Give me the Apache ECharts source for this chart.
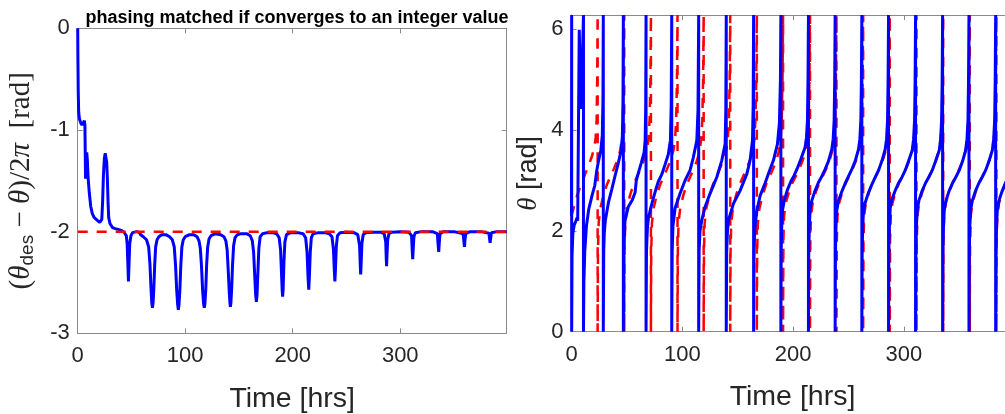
<!DOCTYPE html>
<html><head><meta charset="utf-8">
<script src="https://cdn.jsdelivr.net/npm/echarts@6/dist/echarts.min.js"></script>
<style>html,body{margin:0;padding:0;background:#fff}#c{width:1005px;height:414px}</style>
</head><body><div id="c"></div>
<script>
// ---------- data ----------
const TWO_PI = 6.283;
const xTicks = [0, 100, 200, 300];
const yTicksLeft = [-3, -2, -1, 0];
const yTicksRight = [0, 2, 4, 6];
const targetLevel = -2;

// (theta_des - theta)/2pi  [time (hrs), value]
const phaseDiff = [
[0,0],[0.2,-0.3],[0.5,-0.62],[0.9,-0.82],[1.6,-0.89],[2.8,-0.93],[4.0,-0.95],[5.2,-0.94],[6.2,-0.91],[6.7,-0.95],[7.3,-1.48],[7.6,-1.42],[8.4,-1.22],[9.0,-1.3],[9.6,-1.46],[10.8,-1.62],[12.1,-1.75],[13.5,-1.82],[15.2,-1.86],[18.3,-1.89],[20.5,-1.91],[21.6,-1.92],[22.4,-1.88],[23.2,-1.7],[23.9,-1.45],[24.8,-1.28],[25.6,-1.23],[26.3,-1.24],[27.0,-1.32],[27.6,-1.48],[28.2,-1.7],[28.8,-1.86],[30,-1.92],[32.3,-1.96],[35,-1.97],[38.5,-1.98],[41,-1.99],[43.5,-2.01],[45.2,-2.04],
[46.0,-2.12],[46.6,-2.3],[47.2,-2.49],[47.8,-2.3],[48.4,-2.12],[49.5,-2.04],[51,-2.01],[55,-2.0],[57.5,-2.01],[58.5,-2.03],[61,-2.05],[64,-2.08],[66,-2.15],[67.2,-2.32],[68.2,-2.56],[68.9,-2.7],[69.5,-2.75],[70.1,-2.7],[70.8,-2.56],[71.6,-2.33],[72.5,-2.15],[73.8,-2.08],[75.5,-2.05],[78,-2.03],[82,-2.03],[85.5,-2.05],[88,-2.08],[89.8,-2.15],[91.0,-2.33],[92.1,-2.58],[93.0,-2.72],[93.6,-2.77],[94.2,-2.72],[95.0,-2.58],[95.9,-2.33],[96.9,-2.15],[98.2,-2.08],[100,-2.05],[104,-2.03],[108,-2.03],[111,-2.05],[112.8,-2.09],[114.0,-2.16],[115.1,-2.33],[116.2,-2.58],[117.1,-2.71],[117.7,-2.75],[118.3,-2.71],[119.1,-2.57],[119.9,-2.33],[120.9,-2.15],[122.2,-2.07],[124,-2.04],[128,-2.02],[133,-2.03],[136,-2.05],[137.8,-2.09],[139.0,-2.18],[140.0,-2.38],[141.0,-2.6],[141.6,-2.7],[142.0,-2.74],[142.5,-2.7],[143.2,-2.56],[144.0,-2.33],[145.0,-2.14],[146.3,-2.06],[148.5,-2.03],[152,-2.02],[157,-2.02],[160.5,-2.04],[162.4,-2.09],[163.6,-2.2],[164.6,-2.42],[165.5,-2.62],[166.2,-2.69],[166.8,-2.62],[167.6,-2.4],[168.5,-2.16],[169.7,-2.05],[172,-2.02],[176,-2.01],[181,-2.01],[185,-2.02],[187.4,-2.06],[188.7,-2.18],[189.6,-2.42],[190.2,-2.58],[190.6,-2.64],[191.1,-2.56],[191.8,-2.3],[192.7,-2.1],[194.2,-2.03],[198,-2.01],[205,-2.01],[209.5,-2.02],[212,-2.06],[213.3,-2.2],[214.2,-2.44],[214.9,-2.57],[215.5,-2.44],[216.3,-2.2],[217.3,-2.06],[219,-2.02],[224,-2.01],[230,-2.01],[234,-2.02],[236.5,-2.05],[237.9,-2.18],[238.7,-2.39],[239.2,-2.49],[239.7,-2.38],[240.5,-2.15],[241.6,-2.04],[244,-2.01],[250,-2.005],[257,-2.01],[260.5,-2.03],[262.2,-2.14],[262.8,-2.33],[263.2,-2.42],[263.6,-2.32],[264.3,-2.12],[265.5,-2.03],[268,-2.01],[275,-2.005],[282,-2.005],[285,-2.02],[286.5,-2.1],[287.0,-2.27],[287.3,-2.34],[287.6,-2.25],[288.3,-2.08],[289.5,-2.02],[292,-2.005],[300,-2.0],[308,-2.005],[310.5,-2.04],[311.2,-2.2],[311.6,-2.27],[312.0,-2.18],[312.7,-2.05],[314,-2.01],[320,-2.0],[330,-2.0],[334.5,-2.02],[335.3,-2.14],[335.8,-2.2],[336.2,-2.12],[337,-2.02],[340,-2.0],[350,-2.0],[358.5,-2.02],[359.3,-2.11],[359.7,-2.15],[360.1,-2.09],[360.9,-2.02],[365,-2.0],[375,-2.0],[382.5,-2.015],[383.2,-2.08],[383.6,-2.11],[384.0,-2.07],[384.8,-2.01],[390,-2.0],[399,-2.0]
];

// theta (wrapped to [0, 2pi])  [time, rad]
const theta = [
[0,2.3],[0.15,6.283],[0.15,0],[0.5,1.5],[1.2,1.95],[2.5,2.12],[4.0,2.2],[5.0,2.26],[5.6,2.2],[6.4,2.18],[7.0,5.99],[8.5,4.42],[9.6,5.2],[10.8,6.283],[10.8,0],
[11.2,1.0],[12.0,1.6],[13.5,2.1],[15.5,2.42],[18.5,2.7],[21,2.9],[22.8,3.2],[24.5,3.4],[26.5,3.6],[27.8,3.9],[28.4,4.6],[28.7,6.283],[28.7,0],
[29.1,1.6],[29.6,1.96],[30.5,2.2],[33.3,2.56],[36.3,2.82],[39.3,3.09],[42.3,3.35],[44.8,3.6],[46.0,3.9],[46.5,4.6],[46.8,6.283],[46.8,0],
[47.2,1.6],[48.3,2.2],[51.3,2.48],[55,2.62],[57.4,2.76],[58.5,3.0],[60,3.12],[63,3.35],[65.5,3.55],[66.5,3.8],[67.0,4.5],[67.3,6.283],[67.3,0],
[67.7,1.6],[68.5,2.05],[69.4,2.25],[71.5,2.45],[73.9,2.65],[76.5,2.85],[78.4,2.98],[81.5,3.12],[84.5,3.32],[87.4,3.52],[89.3,3.8],[90.0,4.5],[90.5,6.283],[90.5,0],
[90.9,1.6],[91.6,2.1],[93.5,2.45],[98,2.74],[102.5,3.0],[107,3.2],[110,3.46],[113.1,3.79],[114.2,4.4],[114.8,6.283],[114.8,0],
[115.2,1.6],[116.0,2.0],[117.6,2.21],[120.6,2.48],[125.1,2.74],[131.2,3.07],[135.7,3.4],[138.7,3.73],[139.3,4.4],[139.7,6.283],[139.7,0],
[140.1,1.6],[140.8,2.0],[141.7,2.21],[146.2,2.54],[152.2,2.8],[158.3,3.13],[161.2,3.4],[163.4,3.8],[164.0,4.5],[164.4,6.283],[164.4,0],
[164.8,1.6],[165.5,2.05],[167.3,2.4],[170.3,2.7],[174.8,2.95],[178,3.15],[182.3,3.4],[185.9,3.72],[187.7,4.15],[188.6,5.0],[189.0,6.283],[189.0,0],
[189.3,1.6],[189.8,2.1],[190.5,2.41],[192,2.6],[195,2.82],[198,2.98],[201,3.1],[204,3.25],[207,3.42],[210.9,3.66],[212.1,3.85],[213.0,4.2],[213.5,5.0],[213.9,6.283],[213.9,0],
[214.2,1.6],[214.7,2.1],[215.4,2.41],[216.9,2.6],[219.9,2.8],[222.9,2.96],[225.9,3.08],[228.9,3.22],[231.9,3.38],[235,3.62],[236.2,3.82],[237.1,4.2],[237.6,5.0],[238.0,6.283],[238.0,0],
[238.3,1.6],[238.8,2.1],[239.5,2.41],[241,2.6],[244,2.78],[247,2.94],[250,3.08],[253,3.22],[256,3.38],[259.1,3.62],[260.3,3.82],[261.2,4.2],[261.7,5.0],[262.1,6.283],[262.1,0],
[262.4,1.6],[262.9,2.1],[263.6,2.38],[265.1,2.56],[268.1,2.76],[271.1,2.92],[274.1,3.06],[277.1,3.2],[280.1,3.38],[283.2,3.62],[284.4,3.82],[285.3,4.2],[285.8,5.0],[286.2,6.283],[286.2,0],
[286.5,1.6],[287.0,2.1],[287.7,2.45],[289.2,2.62],[292.2,2.8],[295.2,2.95],[298.2,3.06],[301.2,3.2],[304.2,3.38],[307.6,3.6],[308.8,3.82],[309.7,4.2],[310.2,5.0],[310.6,6.283],[310.6,0],
[310.9,1.6],[311.4,2.1],[312.1,2.41],[313.6,2.6],[316.6,2.8],[319.6,2.95],[322.6,3.07],[325.6,3.2],[328.6,3.38],[332,3.6],[333.2,3.82],[334.1,4.2],[334.6,5.0],[335.0,6.283],[335.0,0],
[335.3,1.6],[335.8,2.1],[336.5,2.41],[338,2.6],[341,2.8],[344,2.95],[347,3.07],[350,3.2],[353,3.38],[355.8,3.6],[357,3.82],[357.9,4.2],[358.4,5.0],[358.8,6.283],[358.8,0],
[359.1,1.6],[359.6,2.1],[360.3,2.41],[361.8,2.6],[364.8,2.8],[367.8,2.95],[370.8,3.07],[373.8,3.2],[376.8,3.38],[379.9,3.6],[381.1,3.82],[382,4.2],[382.5,5.0],[382.9,6.283],[382.9,0],
[383.2,1.6],[383.7,2.1],[384.4,2.41],[385.9,2.6],[388.9,2.8],[391.9,2.96],[394.9,3.08],[399,3.25]
];

// theta_des (wrapped to [0, 2pi])  [time, rad]
const thetaDes = [
[0,2.3],[1.5,2.42],[4.7,2.68],[9.2,2.95],[13.7,3.2],[18,3.45],[20.6,3.65],[21.8,3.85],[22.7,4.2],[23.2,5.0],[23.6,6.283],[23.6,0],
[23.9,1.6],[24.5,2.15],[26.0,2.45],[29.0,2.72],[32.0,2.92],[35.0,3.07],[38.0,3.22],[41.0,3.38],[44.0,3.6],[45.4,3.82],[46.4,4.2],[47.1,5.0],[47.6,6.283],[47.6,0],
[47.9,1.6],[48.5,2.15],[50.0,2.45],[53.0,2.72],[56.0,2.92],[59.0,3.07],[62.0,3.22],[65.0,3.38],[68.1,3.6],[69.5,3.82],[70.5,4.2],[71.2,5.0],[71.7,6.283],[71.7,0],
[72.0,1.6],[72.6,2.15],[74.1,2.45],[77.1,2.72],[80.1,2.92],[83.1,3.07],[86.1,3.22],[89.1,3.38],[92.1,3.6],[93.5,3.82],[94.5,4.2],[95.2,5.0],[95.7,6.283],[95.7,0],
[96.0,1.6],[96.6,2.15],[98.1,2.45],[101.1,2.72],[104.1,2.92],[107.1,3.07],[110.1,3.22],[113.1,3.38],[115.7,3.6],[117.1,3.82],[118.1,4.2],[118.8,5.0],[119.3,6.283],[119.3,0],
[119.6,1.6],[120.2,2.15],[121.7,2.45],[124.7,2.72],[127.7,2.92],[130.7,3.07],[133.7,3.22],[136.7,3.38],[139.7,3.6],[141.1,3.82],[142.1,4.2],[142.8,5.0],[143.3,6.283],[143.3,0],
[143.6,1.6],[144.2,2.15],[145.7,2.45],[148.7,2.72],[151.7,2.92],[154.7,3.07],[157.7,3.22],[160.7,3.38],[163.7,3.6],[165.1,3.82],[166.1,4.2],[166.8,5.0],[167.3,6.283],[167.3,0],
[167.6,1.6],[168.2,2.15],[169.7,2.45],[172.7,2.72],[175.7,2.92],[178.7,3.07],[181.7,3.22],[184.7,3.38],[187.4,3.6],[188.8,3.82],[189.8,4.2],[190.5,5.0],[191.0,6.283],[191.0,0],
[191.3,1.8],[191.9,2.3],[193.4,2.55],[196.4,2.78],[199.4,2.95],[202.4,3.08],[205.4,3.22],[208.4,3.38],[211.7,3.6],[213.1,3.82],[214.1,4.2],[214.8,5.0],[215.3,6.283],[215.3,0],
[215.6,1.8],[216.2,2.3],[217.7,2.55],[220.7,2.78],[223.7,2.95],[226.7,3.08],[229.7,3.22],[232.7,3.38],[235.6,3.6],[237.0,3.82],[238.0,4.2],[238.7,5.0],[239.2,6.283],[239.2,0],
[239.5,1.8],[240.1,2.3],[241.6,2.55],[244.6,2.78],[247.6,2.95],[250.6,3.08],[253.6,3.22],[256.6,3.38],[259.7,3.6],[261.1,3.82],[262.1,4.2],[262.8,5.0],[263.3,6.283],[263.3,0],
[263.6,1.8],[264.2,2.3],[265.7,2.55],[268.7,2.78],[271.7,2.95],[274.7,3.08],[277.7,3.22],[280.7,3.38],[283.7,3.6],[285.1,3.82],[286.1,4.2],[286.8,5.0],[287.3,6.283],[287.3,0],
[287.6,1.8],[288.2,2.3],[289.7,2.55],[292.7,2.78],[295.7,2.95],[298.7,3.08],[301.7,3.22],[304.7,3.38],[307.8,3.6],[309.2,3.82],[310.2,4.2],[310.9,5.0],[311.4,6.283],[311.4,0],
[311.7,1.8],[312.3,2.3],[313.8,2.55],[316.8,2.78],[319.8,2.95],[322.8,3.08],[325.8,3.22],[328.8,3.38],[331.9,3.6],[333.3,3.82],[334.3,4.2],[335.0,5.0],[335.5,6.283],[335.5,0],
[335.8,1.8],[336.4,2.3],[337.9,2.55],[340.9,2.78],[343.9,2.95],[346.9,3.08],[349.9,3.22],[352.9,3.38],[355.9,3.6],[357.3,3.82],[358.3,4.2],[359.0,5.0],[359.5,6.283],[359.5,0],
[359.8,1.8],[360.4,2.3],[361.9,2.55],[364.9,2.78],[367.9,2.95],[370.9,3.08],[373.9,3.22],[376.9,3.38],[379.9,3.6],[381.3,3.82],[382.3,4.2],[383.0,5.0],[383.5,6.283],[383.5,0],
[383.8,1.8],[384.4,2.3],[385.9,2.55],[388.9,2.78],[391.9,2.95],[394.9,3.08],[399,3.25]
];

// ---------- chart ----------
const AX = '#8a8a8a', TXT = '#262626';
const SANS = 'Liberation Sans', SERIF = 'Liberation Serif';
const chart = echarts.init(document.getElementById('c'), null, {renderer: 'canvas'});

function xAx(grid, bottom, name) {
  return {
    gridIndex: grid, type: 'value', min: 0, max: 399, interval: 100,
    position: bottom ? 'bottom' : 'top',
    name: bottom ? name : '', nameLocation: 'middle', nameGap: 51, nameMoveOverlap: false,
    nameTextStyle: {fontFamily: SANS, fontSize: 28.5, color: TXT},
    axisLine: {show: true, onZero: false, lineStyle: {color: AX, width: 1}},
    axisTick: {show: true, inside: true, length: 5, lineStyle: {color: AX}, customValues: xTicks},
    axisLabel: {show: bottom, fontFamily: SANS, fontSize: 22, color: TXT, margin: 12, customValues: xTicks},
    splitLine: {show: false}
  };
}
function yAx(grid, left, min, max, interval, ticks, nameObj) {
  const o = {
    gridIndex: grid, type: 'value', min: min, max: max, interval: interval,
    position: left ? 'left' : 'right',
    axisLine: {show: true, onZero: false, lineStyle: {color: AX, width: 1}},
    axisTick: {show: true, inside: true, length: 5, lineStyle: {color: AX}, customValues: ticks},
    axisLabel: {show: left, fontFamily: SANS, fontSize: 22, color: TXT, margin: 8, customValues: ticks},
    splitLine: {show: false}
  };
  if (nameObj) Object.assign(o, nameObj);
  return o;
}

const leftName = {
  name: '{p|(}{t|θ}{s|des}{p| − }{t|θ}{p|)/2}{t|π}{p|  [rad]}',
  nameLocation: 'middle', nameRotate: 90, nameGap: 40, nameMoveOverlap: false,
  nameTextStyle: {
    rich: {
      p: {fontFamily: SERIF, fontSize: 29, color: TXT, lineHeight: 32},
      t: {fontFamily: SERIF, fontStyle: 'italic', fontSize: 29, color: TXT, lineHeight: 32},
      s: {fontFamily: SANS, fontSize: 19, color: TXT, lineHeight: 16, verticalAlign: 'bottom'}
    }
  }
};
const rightName = {
  name: '{t|θ}{p| [rad]}',
  nameLocation: 'middle', nameRotate: 90, nameGap: 28, nameMoveOverlap: false,
  nameTextStyle: {
    rich: {
      t: {fontFamily: SERIF, fontStyle: 'italic', fontSize: 27, color: TXT, lineHeight: 30},
      p: {fontFamily: SANS, fontSize: 27, color: TXT, lineHeight: 30}
    }
  }
};

const option = {
  animation: false,
  backgroundColor: '#fff',
  title: {
    text: 'phasing matched if converges to an integer value',
    left: 292, top: 4, textAlign: 'center',
    textStyle: {fontFamily: SANS, fontWeight: 'bold', fontSize: 18, color: '#000'}
  },
  grid: [
    {left: 77.7, top: 28.3, width: 429, height: 305, outerBoundsMode: 'none', containLabel: false},
    {left: 571.5, top: 15, width: 442, height: 316.7, outerBoundsMode: 'none', containLabel: false}
  ],
  xAxis: [xAx(0, true, 'Time [hrs]'), xAx(0, false), xAx(1, true, 'Time [hrs]'), xAx(1, false)],
  yAxis: [
    yAx(0, true, -3, 0, 1, yTicksLeft, leftName),
    yAx(0, false, -3, 0, 1, yTicksLeft),
    yAx(1, true, 0, TWO_PI, 2, yTicksRight, rightName),
    yAx(1, false, 0, TWO_PI, 2, yTicksRight)
  ],
  series: [
    {type: 'line', xAxisIndex: 0, yAxisIndex: 0, data: phaseDiff, showSymbol: false, silent: true,
      lineStyle: {color: '#0000ff', width: 3}, z: 2},
    {type: 'line', xAxisIndex: 0, yAxisIndex: 0, data: [[0, targetLevel], [399, targetLevel]], showSymbol: false, silent: true,
      lineStyle: {color: '#ff0000', width: 2.5, type: [10, 9]}, z: 3},
    {type: 'line', xAxisIndex: 2, yAxisIndex: 2, data: thetaDes, showSymbol: false, silent: true,
      lineStyle: {color: '#ff0000', width: 2.5, type: [10, 9]}, z: 2},
    {type: 'line', xAxisIndex: 2, yAxisIndex: 2, data: theta, showSymbol: false, silent: true,
      lineStyle: {color: '#0000ff', width: 3}, z: 3}
  ]
};
chart.setOption(option);
</script></body></html>
